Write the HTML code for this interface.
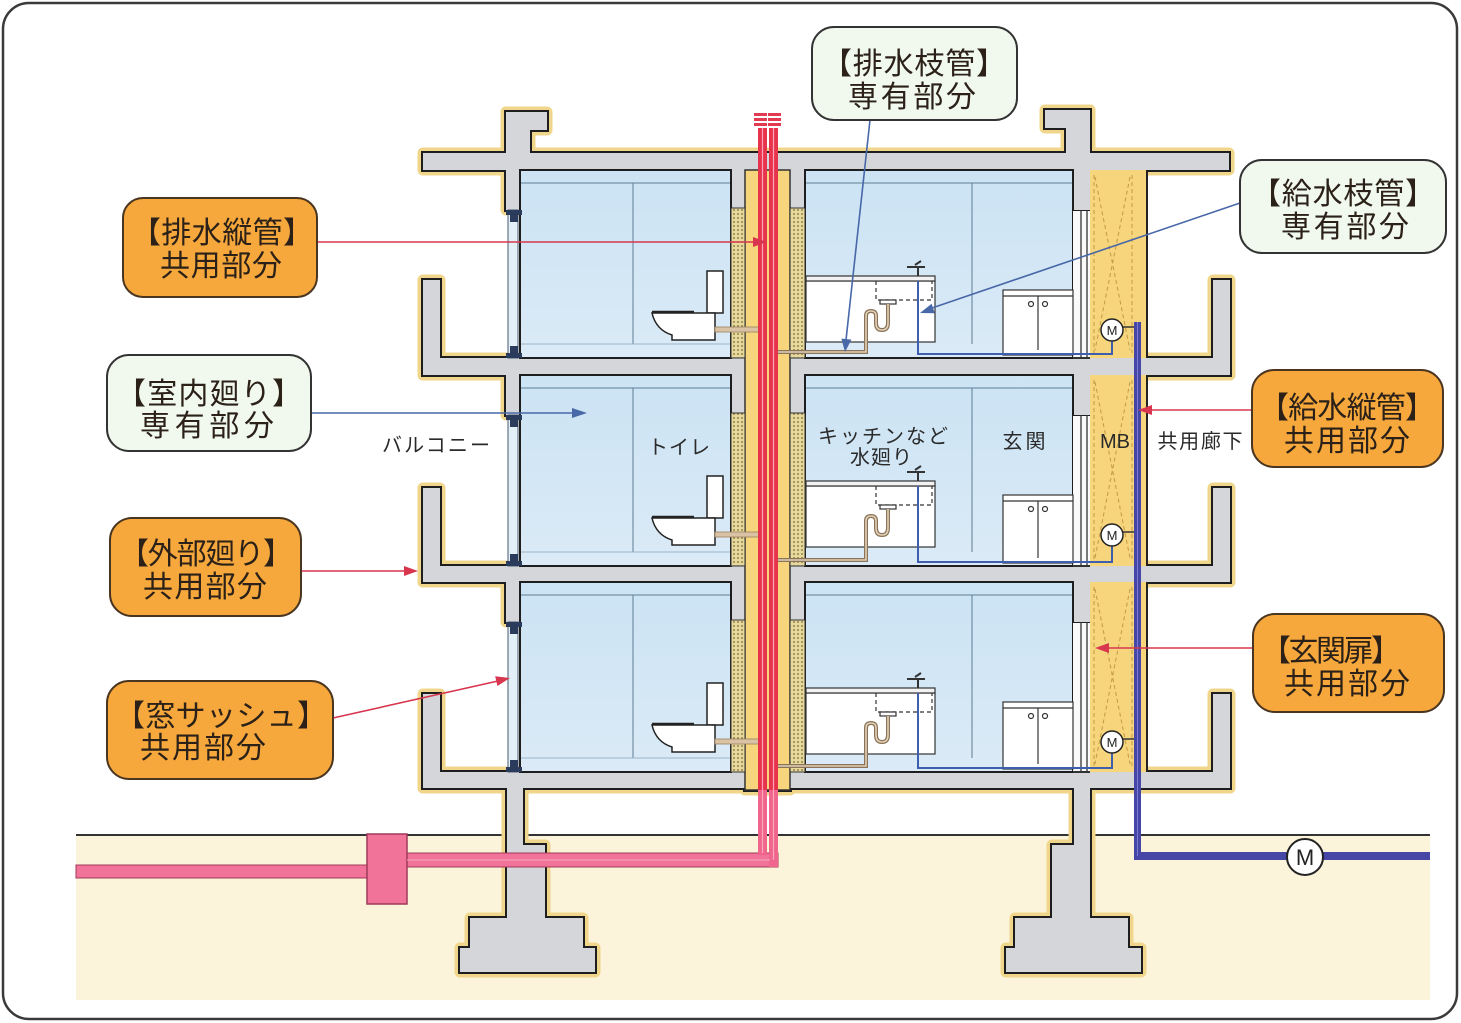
<!DOCTYPE html>
<html><head><meta charset="utf-8">
<style>
html,body{margin:0;padding:0;background:#fff;}
svg{display:block;}
text{font-family:"Liberation Sans","Noto Sans CJK JP",sans-serif;}
</style></head><body>
<svg width="1461" height="1023" viewBox="0 0 1461 1023" xmlns="http://www.w3.org/2000/svg">
<defs>
<pattern id="dots" width="4" height="4" patternUnits="userSpaceOnUse">
<rect width="4" height="4" fill="#e7d89c"/>
<circle cx="2" cy="2" r="0.9" fill="#7a6a36"/>
</pattern>
<linearGradient id="room" x1="0" y1="0" x2="0" y2="1"><stop offset="0" stop-color="#cbe3f4"/><stop offset="1" stop-color="#dbeaf6"/></linearGradient>
<g id="conc">
<rect x="506" y="112" width="24" height="58"/>
<rect x="506" y="112" width="41" height="18"/>
<rect x="423" y="153" width="806" height="17"/>
<rect x="1066" y="110" width="24" height="60"/>
<rect x="1045" y="110" width="45" height="18"/>
<rect x="745" y="170" width="45" height="620"/>
<rect x="506" y="170" width="14" height="40"/>
<rect x="731" y="170" width="14" height="38"/>
<rect x="790" y="170" width="15" height="38"/>
<rect x="1073" y="170" width="17" height="40"/>
<rect x="423" y="358" width="322" height="17"/>
<rect x="790" y="358" width="440" height="17"/>
<rect x="423" y="280" width="17" height="95"/>
<rect x="1213" y="280" width="17" height="95"/>
<rect x="506" y="375" width="14" height="40"/>
<rect x="731" y="375" width="14" height="38"/>
<rect x="790" y="375" width="15" height="38"/>
<rect x="1073" y="375" width="17" height="40"/>
<rect x="423" y="566" width="322" height="16"/>
<rect x="790" y="566" width="440" height="16"/>
<rect x="423" y="488" width="17" height="94"/>
<rect x="1213" y="488" width="17" height="94"/>
<rect x="506" y="582" width="14" height="40"/>
<rect x="731" y="582" width="14" height="38"/>
<rect x="790" y="582" width="15" height="38"/>
<rect x="1073" y="582" width="17" height="40"/>
<rect x="423" y="772" width="322" height="16"/>
<rect x="790" y="772" width="440" height="16"/>
<rect x="423" y="694" width="17" height="94"/>
<rect x="1213" y="694" width="17" height="94"/>
<rect x="507" y="786" width="16" height="62"/>
<rect x="507" y="845" width="38" height="75"/>
<rect x="470" y="918" width="113" height="32"/>
<rect x="460" y="948" width="135" height="24"/>
<rect x="1074" y="786" width="16" height="62"/>
<rect x="1052" y="845" width="38" height="75"/>
<rect x="1015" y="918" width="113" height="32"/>
<rect x="1006" y="948" width="135" height="24"/>
</g>
</defs>

<!-- frame -->
<rect x="3" y="3" width="1454" height="1016" rx="26" fill="#fff" stroke="#3a3a3a" stroke-width="2.5"/>

<!-- ground -->
<rect x="76" y="836" width="1354" height="164" fill="#fbf4da"/>
<line x1="76" y1="835" x2="1430" y2="835" stroke="#333" stroke-width="2"/>

<!-- concrete -->
<use href="#conc" fill="none" stroke="#f0d68a" stroke-width="11" stroke-linejoin="round"/>
<use href="#conc" fill="none" stroke="#1e1e1e" stroke-width="4"/>
<use href="#conc" fill="#d4d6d9" stroke="none"/>

<!-- shaft -->
<rect x="745" y="170" width="45" height="620" fill="#f6d57c" stroke="#333" stroke-width="1.5"/>

<!-- rooms -->
<g fill="url(#room)" stroke="#1e1e1e" stroke-width="2">
<rect x="520" y="170" width="211" height="188"/>
<rect x="805" y="170" width="268" height="188"/>
<rect x="520" y="375" width="211" height="191"/>
<rect x="805" y="375" width="268" height="191"/>
<rect x="520" y="582" width="211" height="190"/>
<rect x="805" y="582" width="268" height="190"/>
</g>

<!-- room lines -->
<g stroke="#5f7c94" stroke-width="1" fill="none">
<line x1="521" y1="183" x2="730" y2="183"/><line x1="633" y1="183" x2="633" y2="344"/><line x1="521" y1="344" x2="730" y2="344" stroke="#9ab4c8"/>
<line x1="806" y1="183" x2="1072" y2="183"/><line x1="972" y1="183" x2="972" y2="344"/>
<line x1="521" y1="388" x2="730" y2="388"/><line x1="633" y1="388" x2="633" y2="552"/><line x1="521" y1="552" x2="730" y2="552" stroke="#9ab4c8"/>
<line x1="806" y1="388" x2="1072" y2="388"/><line x1="972" y1="388" x2="972" y2="552"/>
<line x1="521" y1="595" x2="730" y2="595"/><line x1="633" y1="595" x2="633" y2="758"/><line x1="521" y1="758" x2="730" y2="758" stroke="#9ab4c8"/>
<line x1="806" y1="595" x2="1072" y2="595"/><line x1="972" y1="595" x2="972" y2="758"/>
</g>

<!-- dotted insulation -->
<g fill="url(#dots)" stroke="#333" stroke-width="1">
<rect x="731" y="208" width="14" height="150"/><rect x="790" y="208" width="15" height="150"/>
<rect x="731" y="413" width="14" height="153"/><rect x="790" y="413" width="15" height="153"/>
<rect x="731" y="620" width="14" height="152"/><rect x="790" y="620" width="15" height="152"/>
</g>

<!-- windows -->
<g>
<rect x="508" y="210" width="10" height="148" fill="#e4f0f8" stroke="#4a5a70" stroke-width="1"/>
<rect x="506" y="210" width="16" height="5" fill="#2b3b5c"/><rect x="510" y="215" width="8" height="7" fill="#2b3b5c"/>
<rect x="506" y="353" width="16" height="5" fill="#2b3b5c"/><rect x="510" y="346" width="8" height="7" fill="#2b3b5c"/>
<rect x="508" y="415" width="10" height="151" fill="#e4f0f8" stroke="#4a5a70" stroke-width="1"/>
<rect x="506" y="415" width="16" height="5" fill="#2b3b5c"/><rect x="510" y="420" width="8" height="7" fill="#2b3b5c"/>
<rect x="506" y="561" width="16" height="5" fill="#2b3b5c"/><rect x="510" y="554" width="8" height="7" fill="#2b3b5c"/>
<rect x="508" y="622" width="10" height="150" fill="#e4f0f8" stroke="#4a5a70" stroke-width="1"/>
<rect x="506" y="622" width="16" height="5" fill="#2b3b5c"/><rect x="510" y="627" width="8" height="7" fill="#2b3b5c"/>
<rect x="506" y="767" width="16" height="5" fill="#2b3b5c"/><rect x="510" y="760" width="8" height="7" fill="#2b3b5c"/>
</g>

<!-- MB -->
<g>
<rect x="1090" y="170" width="57" height="188" fill="#f6d57c"/>
<rect x="1090" y="375" width="57" height="191" fill="#f6d57c"/>
<rect x="1090" y="582" width="57" height="190" fill="#f6d57c"/>
<g stroke="#c49a44" stroke-width="1" stroke-dasharray="4 3" fill="none">
<line x1="1094" y1="175" x2="1094" y2="353"/><line x1="1132" y1="175" x2="1132" y2="353"/>
<line x1="1095" y1="177" x2="1130" y2="350"/><line x1="1130" y1="177" x2="1095" y2="350"/>
<line x1="1094" y1="380" x2="1094" y2="561"/><line x1="1132" y1="380" x2="1132" y2="561"/>
<line x1="1095" y1="382" x2="1130" y2="558"/><line x1="1130" y1="382" x2="1095" y2="558"/>
<line x1="1094" y1="587" x2="1094" y2="767"/><line x1="1132" y1="587" x2="1132" y2="767"/>
<line x1="1095" y1="589" x2="1130" y2="764"/><line x1="1130" y1="589" x2="1095" y2="764"/>
</g>
<g stroke="#222" stroke-width="2">
<line x1="1147" y1="170" x2="1147" y2="358"/>
<line x1="1147" y1="375" x2="1147" y2="566"/>
<line x1="1147" y1="582" x2="1147" y2="772"/>
</g>
<!-- doors -->
<rect x="1073" y="211" width="17" height="147" fill="#fafafa"/>
<rect x="1073" y="416" width="17" height="150" fill="#fafafa"/>
<rect x="1073" y="623" width="17" height="149" fill="#fafafa"/>
<g stroke="#333" stroke-width="1.3">
<line x1="1081" y1="210" x2="1081" y2="358"/><line x1="1087" y1="210" x2="1087" y2="358"/>
<line x1="1081" y1="415" x2="1081" y2="566"/><line x1="1087" y1="415" x2="1087" y2="566"/>
<line x1="1081" y1="622" x2="1081" y2="772"/><line x1="1087" y1="622" x2="1087" y2="772"/>
<line x1="1073" y1="358" x2="1090" y2="358" stroke-width="2"/>
<line x1="1073" y1="566" x2="1090" y2="566" stroke-width="2"/>
<line x1="1073" y1="772" x2="1090" y2="772" stroke-width="2"/>
</g>
</g>

<!-- toilets -->
<g fill="#fff" stroke="#222" stroke-width="1.5">
<rect x="707" y="271" width="16" height="42"/>
<path d="M652,313 H715 V340 H672 V335 Q656,330 652,313 Z"/>
<rect x="707" y="476" width="16" height="42"/>
<path d="M652,518 H715 V545 H672 V540 Q656,535 652,518 Z"/>
<rect x="707" y="683" width="16" height="42"/>
<path d="M652,725 H715 V752 H672 V747 Q656,742 652,725 Z"/>
</g>
<g stroke="#222" stroke-width="2.5">
<line x1="652" y1="312" x2="694" y2="312"/>
<line x1="652" y1="517" x2="694" y2="517"/>
<line x1="652" y1="724" x2="694" y2="724"/>
</g>
<g fill="#d9c3a4" stroke="#9a8060" stroke-width="0.8">
<rect x="715" y="327" width="46" height="5"/>
<rect x="715" y="532" width="46" height="5"/>
<rect x="715" y="739" width="46" height="5"/>
</g>

<!-- kitchens -->
<g fill="#fff" stroke="#333" stroke-width="1.2">
<rect x="806" y="281" width="129" height="61"/><rect x="806" y="276" width="129" height="5" fill="#f2f2f2"/>
<rect x="806" y="486" width="129" height="61"/><rect x="806" y="481" width="129" height="5" fill="#f2f2f2"/>
<rect x="806" y="693" width="129" height="61"/><rect x="806" y="688" width="129" height="5" fill="#f2f2f2"/>
<rect x="1003" y="290" width="70" height="65"/>
<rect x="1003" y="495" width="70" height="68"/>
<rect x="1003" y="702" width="70" height="67"/>
</g>
<g fill="none" stroke="#333" stroke-width="1.2">
<line x1="1003" y1="296" x2="1073" y2="296"/><line x1="1038" y1="296" x2="1038" y2="350"/>
<line x1="1003" y1="501" x2="1073" y2="501"/><line x1="1038" y1="501" x2="1038" y2="558"/>
<line x1="1003" y1="708" x2="1073" y2="708"/><line x1="1038" y1="708" x2="1038" y2="764"/>
<circle cx="1031" cy="304" r="2.5"/><circle cx="1045" cy="304" r="2.5"/>
<circle cx="1031" cy="509" r="2.5"/><circle cx="1045" cy="509" r="2.5"/>
<circle cx="1031" cy="716" r="2.5"/><circle cx="1045" cy="716" r="2.5"/>
<path d="M876,281 V300 H932 V281" stroke-dasharray="4 3"/>
<path d="M876,486 V505 H932 V486" stroke-dasharray="4 3"/>
<path d="M876,693 V712 H932 V693" stroke-dasharray="4 3"/>
<rect x="880" y="300" width="16" height="4" fill="#fff"/>
<rect x="880" y="505" width="16" height="4" fill="#fff"/>
<rect x="880" y="712" width="16" height="4" fill="#fff"/>
<path d="M918,276 V268 M907,267 H925 M915,265 l6,-4" stroke-width="2"/>
<path d="M918,481 V473 M907,472 H925 M915,470 l6,-4" stroke-width="2"/>
<path d="M918,688 V680 M907,679 H925 M915,677 l6,-4" stroke-width="2"/>
</g>
<!-- drains -->
<g fill="none" stroke="#8a7358" stroke-width="4">
<path d="M888,304 V323 q0,7 -6,7 q-6,0 -6,-7 V316 q0,-5 -5,-5 q-5,0 -5,5 V352 H776"/>
<path d="M888,509 V528 q0,7 -6,7 q-6,0 -6,-7 V521 q0,-5 -5,-5 q-5,0 -5,5 V560 H776"/>
<path d="M888,716 V735 q0,7 -6,7 q-6,0 -6,-7 V728 q0,-5 -5,-5 q-5,0 -5,5 V766 H776"/>
</g>
<g fill="none" stroke="#e2d2b8" stroke-width="1.6">
<path d="M888,304 V323 q0,7 -6,7 q-6,0 -6,-7 V316 q0,-5 -5,-5 q-5,0 -5,5 V352 H776"/>
<path d="M888,509 V528 q0,7 -6,7 q-6,0 -6,-7 V521 q0,-5 -5,-5 q-5,0 -5,5 V560 H776"/>
<path d="M888,716 V735 q0,7 -6,7 q-6,0 -6,-7 V728 q0,-5 -5,-5 q-5,0 -5,5 V766 H776"/>
</g>
<!-- supply -->
<g fill="none" stroke="#3e5fae" stroke-width="2">
<path d="M918,281 V354 H1112 V341"/>
<path d="M918,486 V562 H1112 V546"/>
<path d="M918,693 V768 H1112 V753"/>
</g>
<g stroke="#333" stroke-width="1.5">
<line x1="1123" y1="327" x2="1135" y2="327"/>
<line x1="1123" y1="532" x2="1135" y2="532"/>
<line x1="1123" y1="739" x2="1135" y2="739"/>
</g>
<g fill="#fff" stroke="#222" stroke-width="1.5">
<circle cx="1112" cy="330" r="11"/><circle cx="1112" cy="535" r="11"/><circle cx="1112" cy="742" r="11"/>
</g>
<g font-size="13" fill="#222" text-anchor="middle">
<text x="1112" y="335">M</text><text x="1112" y="540">M</text><text x="1112" y="747">M</text>
</g>

<!-- riser -->
<rect x="1134" y="322" width="7" height="538" fill="#4646a6"/>
<rect x="1134" y="852" width="296" height="8" fill="#4646a6"/>
<line x1="1137.5" y1="322" x2="1137.5" y2="856" stroke="#7a7ad2" stroke-width="1"/>
<circle cx="1305" cy="857" r="18" fill="#fff" stroke="#222" stroke-width="2"/>
<text x="1305" y="865" font-size="22" text-anchor="middle" fill="#222">M</text>

<!-- drain pipes -->
<rect x="76" y="865" width="291" height="13" fill="#f2739a" stroke="#a03a5a" stroke-width="1"/>
<rect x="407" y="853" width="371" height="14" fill="#f2739a" stroke="#a03a5a" stroke-width="1"/>
<rect x="367" y="834" width="40" height="70" fill="#f2739a" stroke="#a03a5a" stroke-width="1.5"/>
<rect x="758" y="128" width="9" height="727" fill="#e8334d"/>
<rect x="769" y="128" width="9" height="739" fill="#e8334d"/>
<rect x="758" y="790" width="9" height="65" fill="#f0658c"/>
<rect x="769" y="790" width="9" height="77" fill="#f0658c"/>
<line x1="762.5" y1="128" x2="762.5" y2="853" stroke="#f8a8b8" stroke-width="1.2"/>
<line x1="773.5" y1="128" x2="773.5" y2="860" stroke="#f8a8b8" stroke-width="1.2"/>
<line x1="407" y1="860" x2="770" y2="860" stroke="#f8a8c0" stroke-width="1"/>
<g fill="#e23a50">
<rect x="754" y="113" width="13" height="3"/><rect x="754" y="118" width="13" height="3"/><rect x="754" y="123" width="13" height="3"/>
<rect x="768" y="113" width="13" height="3"/><rect x="768" y="118" width="13" height="3"/><rect x="768" y="123" width="13" height="3"/>
</g>

<!-- room labels -->
<g font-size="20" fill="#2a2a2a" text-anchor="middle">
<text x="436" y="452" textLength="108">バルコニー</text>
<text x="679" y="454" textLength="62">トイレ</text>
<text x="883" y="443" textLength="130">キッチンなど</text>
<text x="881" y="464" textLength="62">水廻り</text>
<text x="1024" y="448" textLength="43">玄関</text>
<text x="1115" y="448">MB</text>
<text x="1200" y="448" textLength="85">共用廊下</text>
</g>

<!-- connectors -->
<g stroke-width="1.6" fill="none">
<line x1="317" y1="242" x2="755" y2="242" stroke="#d8364e"/>
<line x1="311" y1="413" x2="575" y2="413" stroke="#4868a8"/>
<line x1="301" y1="571" x2="406" y2="571" stroke="#d8364e"/>
<line x1="333" y1="718" x2="498" y2="681" stroke="#d8364e"/>
<line x1="870" y1="120" x2="846" y2="340" stroke="#4868a8"/>
<line x1="1240" y1="203" x2="932" y2="308" stroke="#4868a8"/>
<line x1="1252" y1="410" x2="1150" y2="410" stroke="#d8364e"/>
<line x1="1253" y1="648" x2="1107" y2="648" stroke="#d8364e"/>
</g>
<g fill="#d8364e">
<polygon points="767,242 753,237 753,247"/>
<polygon points="418,571 404,566 404,576"/>
<polygon points="510,678 497.4,686 495.2,676.2"/>
<polygon points="1138,410 1152,405 1152,415"/>
<polygon points="1095,648 1109,643 1109,653"/>
</g>
<g fill="#4868a8">
<polygon points="587,413 572,408 572,418"/>
<polygon points="845,352 851.4,339.6 841.4,338.6"/>
<polygon points="920,313 934.8,313.2 931.6,303.8"/>
</g>

<!-- callout boxes -->
<g stroke="#4a3520" stroke-width="2">
<rect x="123" y="198" width="194" height="99" rx="20" fill="#f6a83c"/>
<rect x="107" y="355" width="204" height="96" rx="22" fill="#f1f9ee" stroke="#333"/>
<rect x="110" y="518" width="191" height="98" rx="22" fill="#f6a83c"/>
<rect x="107" y="681" width="226" height="98" rx="22" fill="#f6a83c"/>
<rect x="812" y="27" width="205" height="93" rx="22" fill="#f1f9ee" stroke="#333"/>
<rect x="1240" y="160" width="206" height="93" rx="22" fill="#f1f9ee" stroke="#333"/>
<rect x="1252" y="370" width="191" height="97" rx="22" fill="#f6a83c"/>
<rect x="1253" y="614" width="191" height="98" rx="22" fill="#f6a83c"/>
</g>
<g font-size="30" fill="#2b2118" text-anchor="middle">
<text x="222" y="243" textLength="182">【排水縦管】</text>
<text x="221" y="276" textLength="122">共用部分</text>
<text x="209" y="404" textLength="186">【室内廻り】</text>
<text x="207" y="436" textLength="134">専有部分</text>
<text x="206" y="564" textLength="174">【外部廻り】</text>
<text x="205" y="597" textLength="124">共用部分</text>
<text x="221" y="726" textLength="212">【窓サッシュ】</text>
<text x="203" y="758" textLength="126">共用部分</text>
<text x="914" y="74" textLength="184">【排水枝管】</text>
<text x="912" y="107" textLength="128">専有部分</text>
<text x="1343" y="204" textLength="184">【給水枝管】</text>
<text x="1345" y="237" textLength="128">専有部分</text>
<text x="1347" y="418" textLength="176">【給水縦管】</text>
<text x="1347" y="451" textLength="126">共用部分</text>
<text x="1331" y="661" textLength="140">【玄関扉】</text>
<text x="1347" y="694" textLength="126">共用部分</text>
</g>
</svg>
</body></html>
